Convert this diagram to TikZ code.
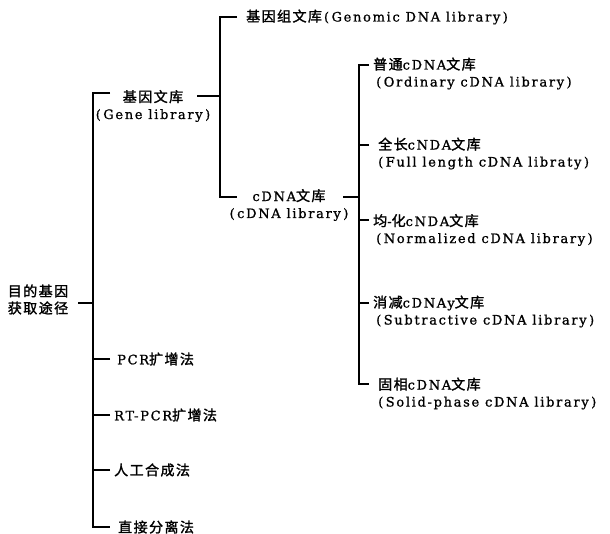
\documentclass[tikz,border=0pt]{standalone}
\usepackage{fontspec}
\setmainfont{DejaVu Serif}[LetterSpace=13,FakeBold=1]
\newfontfamily\cj{Noto Sans CJK SC}[Scale=1.08,LetterSpace=10,FakeBold=1.6]
\newcommand\zh[1]{{\cj #1}}
\newcommand\lp{(\hspace{2.5pt}}
\newcommand\rp{\hspace{2.5pt})}
\begin{document}
\begin{tikzpicture}[x=1pt,y=-1pt,
  conn/.style={line width=2pt},
  lbl/.style={inner sep=0pt, font=\fontsize{13}{17}\selectfont}]
\useasboundingbox (0,0) rectangle (610,534);
% text nodes
\node[lbl, align=center] (root) at (38,299.5) {\zh{目的基因}\\\zh{获取途径}};
\node[lbl, align=center] (gl) at (153,106) {\zh{基因文库}\\\lp Gene library\rp};
\node[lbl, anchor=west] (gn) at (246,17) {\zh{基因组文库}\hspace{2pt}\lp Genomic DNA library\rp};
\node[lbl, align=center] (cd) at (289,205) {cDNA\zh{文库}\\\lp cDNA library\rp};
\node[lbl, anchor=west, align=left] (c1) at (373,73.5) {\zh{普通}cDNA\zh{文库}\\\hspace*{3pt}\lp Ordinary cDNA library\rp};
\node[lbl, anchor=west, align=left] (c2) at (378,153.5) {\zh{全长}cNDA\zh{文库}\\\lp Full length cDNA libraty\rp};
\node[lbl, anchor=west, align=left] (c3) at (373,230) {\zh{均}-\zh{化}cNDA\zh{文库}\\\hspace*{3pt}\lp Normalized cDNA library\rp};
\node[lbl, anchor=west, align=left] (c4) at (373,311.5) {\zh{消减}cDNAy\zh{文库}\\\hspace*{3pt}\lp Subtractive cDNA library\rp};
\node[lbl, anchor=west, align=left] (c5) at (378,393.5) {\zh{固相}cDNA\zh{文库}\\\lp Solid-phase cDNA library\rp};
\node[lbl, anchor=west] (m1) at (117,359) {PCR\zh{扩增法}};
\node[lbl, anchor=west] (m2) at (114,415) {RT-PCR\zh{扩增法}};
\node[lbl, anchor=west] (m3) at (114,470) {\zh{人工合成法}};
\node[lbl, anchor=west] (m4) at (118,527) {\zh{直接分离法}};
% junction coordinates
\coordinate (rt) at (78,303);
\coordinate (b0) at (93,303);
\coordinate (g0) at (110,93);
\coordinate (p1) at (110,359);
\coordinate (p2) at (110,415);
\coordinate (p3) at (110,470);
\coordinate (p4) at (110,527);
\coordinate (gr) at (197,96);
\coordinate (gb) at (220,96);
\coordinate (gnT) at (237,17);
\coordinate (cdT) at (237,197);
\coordinate (cr) at (343,197);
\coordinate (cb) at (359,197);
\coordinate (k1) at (369,65);
\coordinate (k2) at (369,145);
\coordinate (k3) at (369,220);
\coordinate (k4) at (369,303);
\coordinate (k5) at (369,384);
% connectors
\draw[conn] (rt) -- (b0);
\draw[conn] (g0) -- (g0 -| b0) -- (p4 -| b0) -- (p4);
\draw[conn] (p1) -- (p1 -| b0);
\draw[conn] (p2) -- (p2 -| b0);
\draw[conn] (p3) -- (p3 -| b0);
\draw[conn] (gr) -- (gb);
\draw[conn] (gnT) -- (gnT -| gb) -- (cdT -| gb) -- (cdT);
\draw[conn] (cr) -- (cb);
\draw[conn] (k1) -- (k1 -| cb) -- (k5 -| cb) -- (k5);
\draw[conn] (k2) -- (k2 -| cb);
\draw[conn] (k3) -- (k3 -| cb);
\draw[conn] (k4) -- (k4 -| cb);
\end{tikzpicture}
\end{document}
